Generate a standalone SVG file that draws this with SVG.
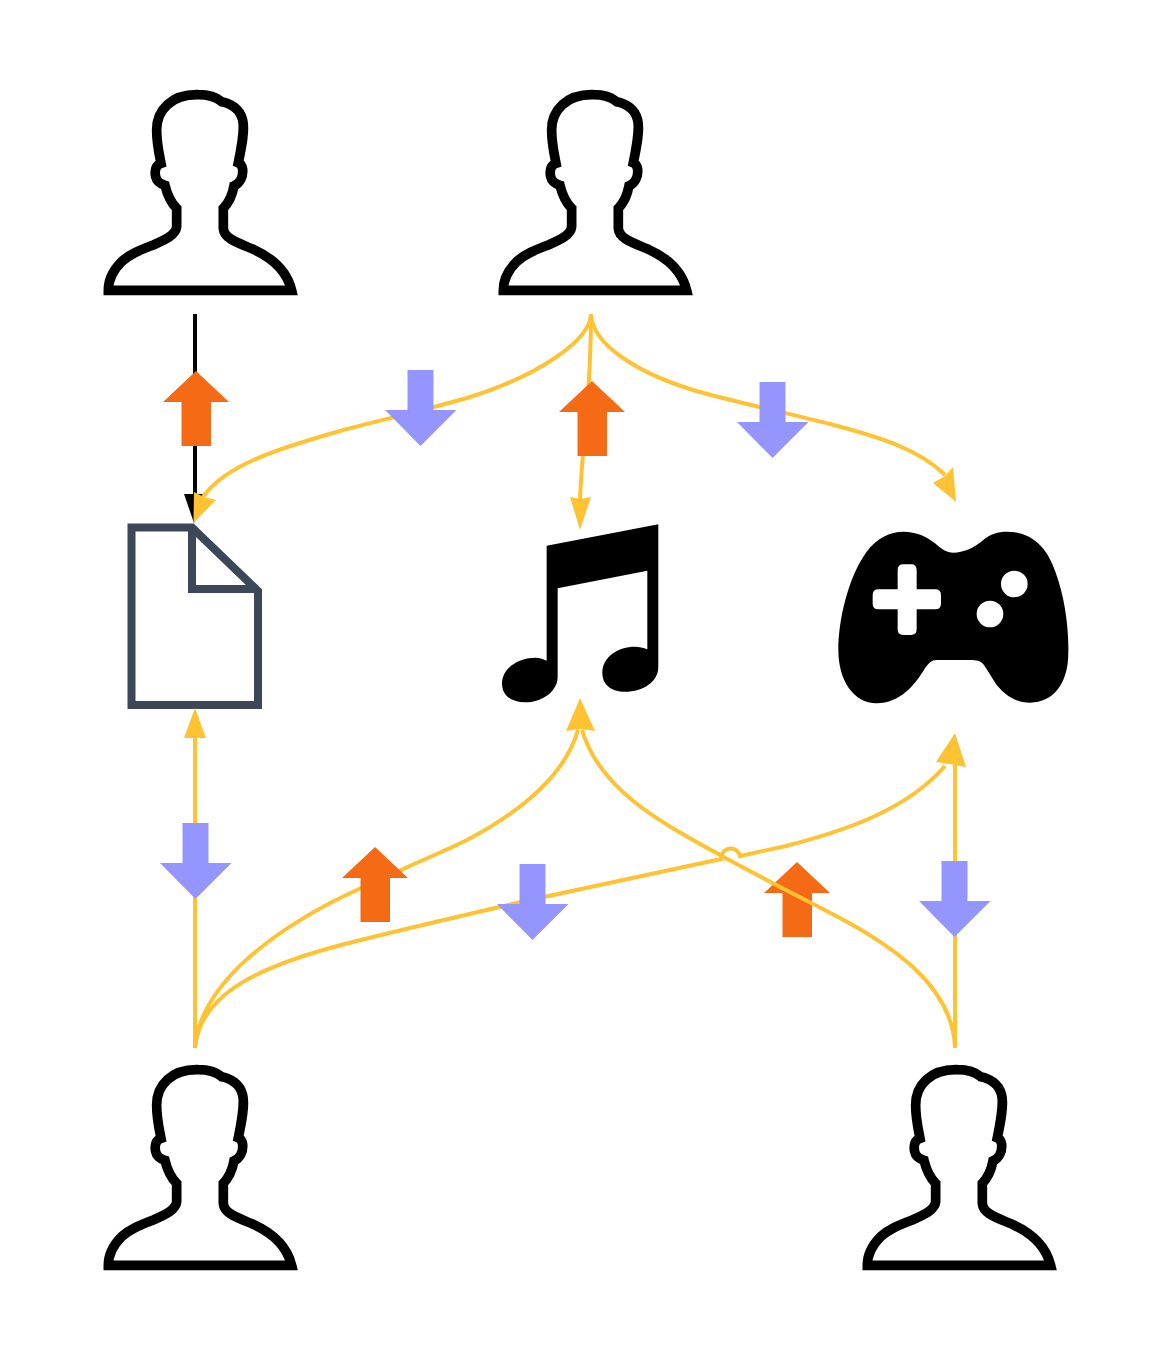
<svg xmlns="http://www.w3.org/2000/svg" width="1149" height="1365" viewBox="0 0 1149 1365">
<style>
.c{fill:none;stroke:#ffc233;stroke-width:4}
.h{fill:#ffc233}
.k{fill:none;stroke:#000;stroke-width:4}
</style>
<defs>
<path id="person" transform="translate(90,80) scale(0.3333)" fill="#fff" stroke="#000" stroke-width="29" stroke-linejoin="miter" stroke-miterlimit="3" d="M55,631 H605 C592,578 550,535 490,508 C440,487 402,475 400,445 V385 C420,365 428,340 432,318 C450,310 460,290 458,268 C456,255 450,250 445,248 C455,200 465,150 458,120 C450,85 420,70 395,65 C375,48 350,44 325,44 C245,42 200,90 200,150 C200,190 208,225 213,250 C198,255 193,270 197,290 C200,305 212,312 225,316 C232,345 245,370 260,385 V440 C258,465 225,480 190,495 C150,510 120,522 95,545 C70,570 55,600 55,631 Z"/>
<path id="up" d="M0,0 L33,31 H15 V75 H-14.500 V31 H-33 Z" fill="#f56a14"/>
<path id="down" d="M-0.500,0 L-36,-36 H-13.500 V-76 H12.500 V-36 H35.500 Z" fill="#9595ff"/>
</defs>
<g id="person-1"><use href="#person"/></g>
<g id="person-2"><use href="#person" x="395"/></g>
<g id="person-3"><use href="#person" y="975"/></g>
<g id="person-4"><use href="#person" x="759" y="975"/></g>
<g id="document"><path d="M131.500,527.500 H192 L258,591 V705 H131.500 Z M192,527.500 V589 H258" fill="#fff" stroke="#3c4858" stroke-width="8"/></g>
<g id="music"><path transform="translate(480,500) scale(0.3333)" fill="#000" d="M200,137 L535,73 V500 C535,545 490,575 435,575 C395,575 367,555 367,518 C367,470 415,440 465,440 C478,440 490,443 502,448 V212 L233,265 V530 C233,575 185,607 135,607 C92,607 66,585 66,550 C66,505 115,473 165,473 C178,473 188,476 200,482 Z"/></g>
<g id="gamepad"><g transform="translate(820,510) scale(0.3333)"><path fill="#000" d="M400,128 C430,128 460,115 490,90 C510,72 535,65 560,65 C610,65 650,85 680,130 C720,195 748,320 745,430 C745,520 700,578 630,578 C590,578 560,560 530,525 L492,465 C482,452 470,450 450,450 H350 C335,450 325,460 315,475 C285,525 240,580 170,580 C100,580 55,510 55,420 C55,330 85,200 140,125 C170,85 210,65 250,65 C290,65 320,80 345,100 C365,118 380,128 400,128 Z"/><path fill="#fff" d="M233,238 V180 Q233,163 250,163 H273 Q290,163 290,180 V238 H346 Q363,238 363,255 V281 Q363,298 346,298 H290 V358 Q290,375 273,375 H250 Q233,375 233,358 V298 H175 Q158,298 158,281 V255 Q158,238 175,238 Z"/><circle cx="583" cy="222" r="40" fill="#fff"/><circle cx="510" cy="312" r="40" fill="#fff"/></g></g>
<g id="connectors">
<use href="#up" x="797" y="862"/>
<path class="k" d="M195,314 V497"/>
<path d="M184,494 L194,523 L206,494 Z" fill="#000"/>
<use href="#up" x="196" y="371"/>
<path class="c" d="M591,314 C590,340 540,375 470,397 C430,409 385,419 340,431 C280,448 225,465 203,497"/>
<path class="h" d="M193.500,523 L194,492 L204,497 L216,500 Z"/>
<path class="c" d="M591,314 C592,345 640,375 700,392 C740,403 790,414 830,424 C880,437 920,450 945,475"/>
<path class="h" d="M956,502 L933,483 L945,476 L953,467 Z"/>
<path class="c" d="M591,314 C591,340 589,385 586,420 C584,445 581,470 580,500"/>
<path class="h" d="M580,530 L570,497 L580.500,499 L591,497 Z"/>
<path class="c" d="M195,1048 V735"/>
<path class="h" d="M195,708 L184,738 H206 Z"/>
<path class="c" d="M195,1048 C200,985 270,935 330,903 C380,878 430,858 467,840 C520,812 565,775 578,730"/>
<path class="c" d="M955,1048 C953,985 890,945 840,918 C800,897 760,877 720,855 C660,822 600,790 582,730"/>
<path class="h" d="M580,698 L566,731 L580,729 L595,731 Z"/>
<path class="c" d="M195,1048 C200,990 270,965 330,948 C370,937 430,923 530,900 L721,859 C722,845 738,846 740,856 L786,846 C840,832 905,812 945,766"/>
<path class="c" d="M955,1048 V765"/>
<path class="h" d="M955,733 L936,762 L955,765 L966,767 Z"/>
<use href="#up" x="592" y="381"/>
<use href="#up" x="375" y="847"/>
<use href="#down" x="421" y="446"/>
<use href="#down" x="773" y="458"/>
<use href="#down" x="196" y="899"/>
<use href="#down" x="533" y="940"/>
<use href="#down" x="955" y="937"/>
</g>
</svg>
